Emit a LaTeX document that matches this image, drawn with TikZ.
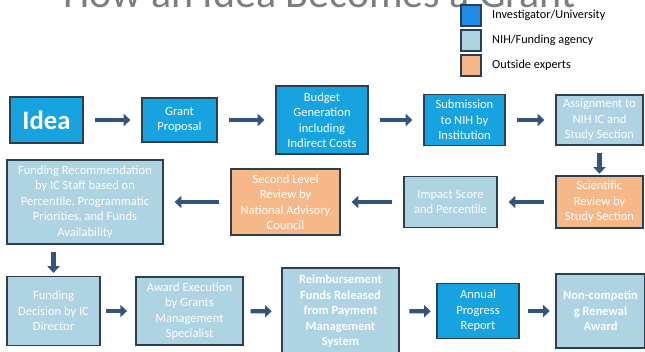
\documentclass[tikz,border=0pt]{standalone}
\usepackage{fontspec}
\setmainfont{Carlito}
\usetikzlibrary{arrows.meta,positioning}

\definecolor{invblue}{RGB}{22,163,224}
\definecolor{legblue}{RGB}{30,140,230}
\definecolor{nihblue}{RGB}{174,211,226}
\definecolor{extorange}{RGB}{247,184,137}
\definecolor{boxline}{RGB}{44,62,80}
\definecolor{arrowblue}{RGB}{52,84,126}
\definecolor{titlegray}{RGB}{125,125,125}

\tikzset{every picture/.style={line width=0.75pt}}
\tikzset{
  flowbox/.style={draw=boxline, line width=1.4pt, align=center, text=white, inner sep=1pt,
    font=\fontsize{9.4}{11.6}\selectfont},
  invbox/.style={flowbox, fill=invblue},
  nihbox/.style={flowbox, fill=nihblue},
  extbox/.style={flowbox, fill=extorange},
  legsq/.style={draw=boxline, line width=1.1pt, minimum width=15pt, minimum height=15.5pt, inner sep=0pt},
  legtext/.style={anchor=west, inner sep=0pt, font=\fontsize{9.2}{11}\selectfont},
  flowarrow/.style={draw=arrowblue, line width=3.2pt, -{Triangle[length=5pt,width=9pt]},
    shorten <=8pt, shorten >=8pt}
}

\begin{document}
\begin{tikzpicture}[x=0.75pt,y=0.75pt,yscale=-1,xscale=1]
		\useasboundingbox (0,0) rectangle (645,351);
		\clip (0,0) rectangle (645,351);
		
		%Title (cut at the top)
		\node [anchor=base west, inner sep=0pt, text=titlegray, font=\fontsize{31.5}{36}\selectfont] (title) at (63,7.5) {How an Idea Becomes a Grant};
		
		%Legend
		\node [legsq, fill=legblue] (leginv) at (471,15.5) {};
		\node [legsq, fill=nihblue] (legnih) at (471,40.5) {};
		\node [legsq, fill=extorange] (legext) at (471,65.5) {};
		\node [legtext, right=7.5pt of leginv] (leginvtxt) {Investigator/University};
		\node [legtext, right=7.5pt of legnih] (legnihtxt) {NIH/Funding agency};
		\node [legtext, right=7.5pt of legext] (legexttxt) {Outside experts};
		
		%Row 1
		\node [invbox, minimum width=54.75pt, minimum height=34.5pt, font=\bfseries\fontsize{20}{24}\selectfont] (idea) at (46.5,120) {Idea};
		\node [invbox, minimum width=56.25pt, minimum height=33pt] (grant) at (179.5,120) {Grant\\Proposal};
		\node [invbox, minimum width=69pt, minimum height=51pt] (budget) at (322,120) {Budget\\Generation\\including\\Indirect Costs};
		\node [invbox, minimum width=60.75pt, minimum height=38.25pt] (submit) at (464.5,120) {Submission\\to NIH by\\Institution};
		\node [nihbox, minimum width=65.25pt, minimum height=37.5pt] (assign) at (599.5,120) {Assignment to\\NIH IC and\\Study Section};
		
		%Row 2
		\node [extbox, minimum width=65.25pt, minimum height=39pt] (review) at (599.5,202) {Scientific\\Review by\\Study Section};
		\node [nihbox, minimum width=69.75pt, minimum height=38.25pt] (impact) at (450.5,202) {Impact Score\\and Percentile};
		\node [extbox, minimum width=81.75pt, minimum height=49.5pt] (council) at (285.5,202) {Second Level\\Review by\\National Advisory\\Council};
		\node [nihbox, minimum width=117pt, minimum height=63pt] (recommend) at (85,202) {Funding Recommendation\\by IC Staff based on\\Percentile, Programmatic\\Priorities, and Funds\\Availability};
		
		%Row 3
		\node [nihbox, minimum width=69.75pt, minimum height=51.75pt] (decision) at (53.5,311) {Funding\\Decision by IC\\Director};
		\node [nihbox, minimum width=80.25pt, minimum height=51pt] (execution) at (189.5,311) {Award Execution\\by Grants\\Management\\Specialist};
		\node [nihbox, minimum width=87.75pt, minimum height=65.25pt, font=\bfseries\fontsize{9.4}{11.6}\selectfont] (reimburse) at (340.5,311.5) {Reimbursement\\Funds Released\\from Payment\\Management\\System};
		\node [invbox, minimum width=61.5pt, minimum height=41.25pt] (annual) at (478,311) {Annual\\Progress\\Report};
		\node [nihbox, minimum width=66.75pt, minimum height=55.5pt, font=\bfseries\fontsize{9.4}{11.6}\selectfont] (renewal) at (600.5,311) {Non-competin\\g Renewal\\Award};
		
		%Arrows
		\draw [flowarrow] (idea) -- (grant);
		\draw [flowarrow] (grant) -- (budget);
		\draw [flowarrow] (budget) -- (submit);
		\draw [flowarrow] (submit) -- (assign);
		\draw [flowarrow, shorten <=5pt, shorten >=1pt] (assign) -- (review);
		\draw [flowarrow] (review) -- (impact);
		\draw [flowarrow] (impact) -- (council);
		\draw [flowarrow] (council) -- (recommend);
		\draw [flowarrow, shorten <=5pt, shorten >=2pt] (recommend.south -| decision) -- (decision.north);
		\draw [flowarrow, shorten <=4pt, shorten >=6pt] (decision) -- (execution);
		\draw [flowarrow, shorten <=5pt, shorten >=7pt] (execution) -- (reimburse);
		\draw [flowarrow, shorten <=7pt, shorten >=4pt] (reimburse) -- (annual);
		\draw [flowarrow, shorten <=6pt, shorten >=4pt] (annual) -- (renewal);
		
	\end{tikzpicture}
\end{document}
